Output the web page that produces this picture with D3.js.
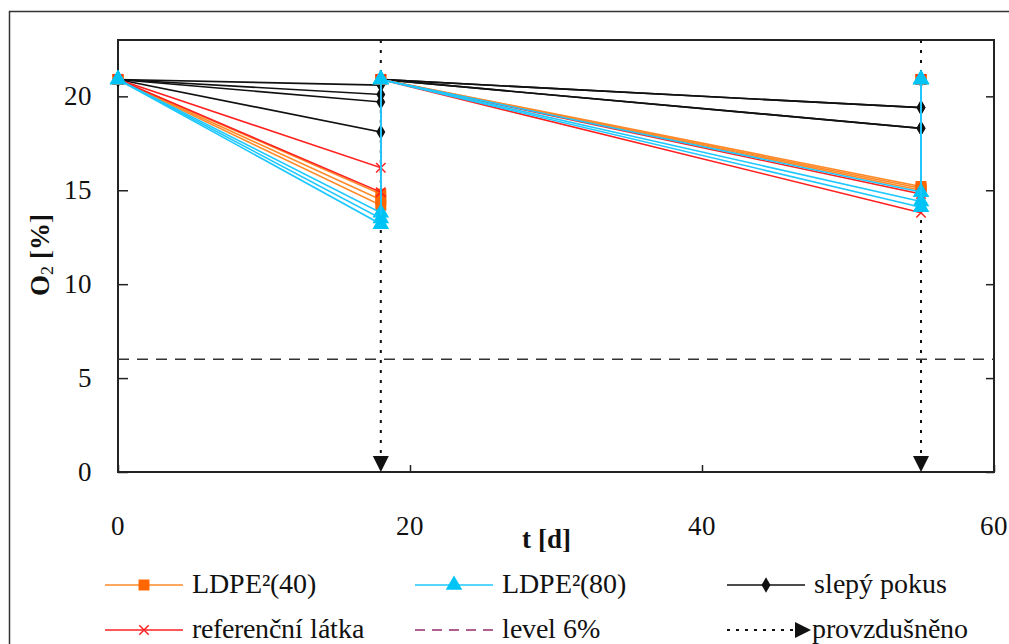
<!DOCTYPE html>
<html>
<head>
  <meta charset="UTF-8">
  <script src="https://d3js.org/d3.v7.min.js"></script>
  <style>
    @font-face {
      font-family: "ChartSerif";
      font-weight: 400;
      src: local("Liberation Serif"), local("LiberationSerif"), local("Liberation Serif Regular"), local("Tinos"), local("Tinos Regular");
    }
    @font-face {
      font-family: "ChartSerif";
      font-weight: 700;
      src: local("Liberation Serif Bold"), local("LiberationSerif-Bold"), local("Tinos Bold"), local("Tinos-Bold");
    }
    body { margin: 0; background: #fff; }
    svg { display: block; }
    svg text { font-family: "ChartSerif", "DejaVu Serif Condensed", serif; fill: #111; }
  </style>
</head>
<body>
  <script>
    // casy mereni; v 18. a 55. dnu provzdušněno (skok zpet na 20.9 %)
    const times = [0, 18, 18, 55, 55];
    const ldpe40 = [
      [20.9, 14.8, 20.9, 15.2, 20.9],
      [20.9, 14.5, 20.9, 15.1, 20.9],
      [20.9, 14.2, 20.9, 15.0, 20.9]
    ];
    const ldpe80 = [
      [20.9, 13.8, 20.9, 14.9, 20.9],
      [20.9, 13.5, 20.9, 14.4, 20.9],
      [20.9, 13.2, 20.9, 14.1, 20.9]
    ];
    const referencni = [
      [20.9, 16.2, 20.9, 14.8, 20.9],
      [20.9, 14.9, 20.9, 13.8, 20.9]
    ];
    const slepy = [
      [20.9, 20.6, 20.9, 19.4, 20.9],
      [20.9, 20.1, 20.9, 19.4, 20.9],
      [20.9, 19.7, 20.9, 18.3, 20.9],
      [20.9, 18.1, 20.9, 18.3, 20.9]
    ];
    const aerationDays = [18, 55];
    const level = 6;
    const xTicks = [0, 20, 40, 60];
    const yTicks = [0, 5, 10, 15, 20];

    const width = 1009, height = 644;
    const plot = { left: 118, right: 994, top: 40, bottom: 472 };

    const x = d3.scaleLinear().domain([0, 60]).range([plot.left, plot.right]);
    const y = d3.scaleLinear().domain([0, 23]).range([plot.bottom, plot.top]);

    const svg = d3.select("body").append("svg")
      .attr("width", width).attr("height", height);

    // vnejsi ramecek
    svg.append("rect")
      .attr("x", 9.5).attr("y", 11.5)
      .attr("width", 1010).attr("height", 700)
      .attr("fill", "none").attr("stroke", "#333").attr("stroke-width", 1.5);

    // osy (ticky dovnitr)
    const gx = svg.append("g").attr("transform", `translate(0,${plot.bottom})`)
      .call(d3.axisBottom(x).tickValues(xTicks).tickSize(-7).tickFormat(""));
    const gy = svg.append("g").attr("transform", `translate(${plot.left},0)`)
      .call(d3.axisLeft(y).tickValues(yTicks).tickSize(-10).tickFormat(""));
    const gr = svg.append("g").attr("transform", `translate(${plot.right},0)`)
      .call(d3.axisRight(y).tickValues(yTicks).tickSize(-8).tickFormat(""));
    [gx, gy, gr].forEach(g => {
      g.select(".domain").remove();
      g.selectAll("text").remove();
      g.selectAll("line").attr("stroke", "#222").attr("stroke-width", 1.5);
    });

    svg.append("rect")
      .attr("x", plot.left).attr("y", plot.top)
      .attr("width", plot.right - plot.left).attr("height", plot.bottom - plot.top)
      .attr("fill", "none").attr("stroke", "#222").attr("stroke-width", 2);

    // popisky ticku
    svg.selectAll("text.xt").data(xTicks).join("text")
      .attr("class", "xt")
      .attr("x", d => x(d)).attr("y", 535)
      .attr("text-anchor", "middle").style("font-size", "27px")
      .text(d => String(d));
    svg.selectAll("text.yt").data(yTicks).join("text")
      .attr("class", "yt")
      .attr("x", 92).attr("y", d => y(d) + 9)
      .attr("text-anchor", "end").style("font-size", "27px")
      .text(d => String(d));

    // nazvy os
    svg.append("text")
      .attr("x", 546).attr("y", 548)
      .attr("text-anchor", "middle").style("font-size", "27px").style("font-weight", "700")
      .text("t [d]");
    const yl = svg.append("text")
      .attr("transform", "translate(49,255) rotate(-90)")
      .attr("text-anchor", "middle").style("font-size", "27px").style("font-weight", "700");
    yl.append("tspan").text("O");
    yl.append("tspan").style("font-size", "18px").style("font-weight", "400").attr("dy", 4).text("2");
    yl.append("tspan").attr("dy", -4).text(" [%]");

    // hranice 6 %
    svg.append("line")
      .attr("x1", plot.left).attr("x2", plot.right)
      .attr("y1", y(level)).attr("y2", y(level))
      .attr("stroke", "#333").attr("stroke-width", 1.5).attr("stroke-dasharray", "11,8");

    // provzdusneni
    aerationDays.forEach(d => {
      svg.append("line")
        .attr("x1", x(d)).attr("x2", x(d))
        .attr("y1", plot.top).attr("y2", plot.bottom - 14)
        .attr("stroke", "#111").attr("stroke-width", 2).attr("stroke-dasharray", "3,7");
      svg.append("path")
        .attr("d", `M${x(d) - 8},${plot.bottom - 16}L${x(d) + 8},${plot.bottom - 16}L${x(d)},${plot.bottom}Z`)
        .attr("fill", "#111");
    });

    const line = d3.line().x((d, i) => x(times[i])).y(d => y(d));

    const symbols = {
      square: d3.symbol().type(d3.symbolSquare).size(120),
      triangle: d3.symbol().type(d3.symbolTriangle).size(120),
      diamond: d3.symbol().type(d3.symbolDiamond).size(70),
      cross: d3.symbol().type(d3.symbolX).size(60)
    };

    const series = [
      { name: "slepý pokus", data: slepy, line: "#111", mark: "#111", sym: "diamond" },
      { name: "LDPE²(40)", data: ldpe40, line: "#ff8a2a", mark: "#ff6600", sym: "square" },
      { name: "referenční látka", data: referencni, line: "#ff2020", mark: "#ff2020", sym: "cross" },
      { name: "LDPE²(80)", data: ldpe80, line: "#1ec8ff", mark: "#00c4f5", sym: "triangle" }
    ];

    series.forEach(s => {
      const g = svg.append("g");
      s.data.forEach(rep => {
        g.append("path").attr("d", line(rep))
          .attr("fill", "none").attr("stroke", s.line).attr("stroke-width", 1.6);
        g.selectAll(null).data(rep).join("path")
          .attr("transform", (d, i) => `translate(${x(times[i])},${y(d)})`)
          .attr("d", symbols[s.sym]())
          .attr("fill", s.sym === "cross" ? "none" : s.mark)
          .attr("stroke", s.sym === "cross" ? s.mark : "none")
          .attr("stroke-width", 1.5);
      });
    });

    // legenda
    const legendItems = [
      { label: "LDPE²(40)", x: 105, y: 585, color: "#ff8a2a", mark: "#ff6600", sym: "square" },
      { label: "LDPE²(80)", x: 415, y: 585, color: "#1ec8ff", mark: "#00c4f5", sym: "triangle" },
      { label: "slepý pokus", x: 727, y: 585, color: "#111", mark: "#111", sym: "diamond" },
      { label: "referenční látka", x: 105, y: 630, color: "#ff2020", mark: "#ff2020", sym: "cross" },
      { label: "level 6%", x: 415, y: 630, color: "#b06090", dash: "10,7" },
      { label: "provzdušněno", x: 727, y: 630, color: "#111", dash: "3,6", arrow: true }
    ];
    legendItems.forEach(it => {
      const g = svg.append("g").attr("transform", `translate(${it.x},${it.y})`);
      g.append("line").attr("x1", 0).attr("x2", it.arrow ? 70 : 78)
        .attr("stroke", it.color).attr("stroke-width", it.dash ? 2 : 1.6)
        .attr("stroke-dasharray", it.dash || null);
      if (it.sym) {
        g.append("path").attr("transform", "translate(39,0)")
          .attr("d", symbols[it.sym]())
          .attr("fill", it.sym === "cross" ? "none" : it.mark)
          .attr("stroke", it.sym === "cross" ? it.mark : "none")
          .attr("stroke-width", 1.5);
      }
      if (it.arrow) {
        g.append("path").attr("d", "M68,-8L84,0L68,8Z").attr("fill", "#111");
      }
      g.append("text").attr("x", it.arrow ? 85 : 87).attr("y", 8)
        .style("font-size", "28px")
        .text(it.label);
    });
  </script>
</body>
</html>
